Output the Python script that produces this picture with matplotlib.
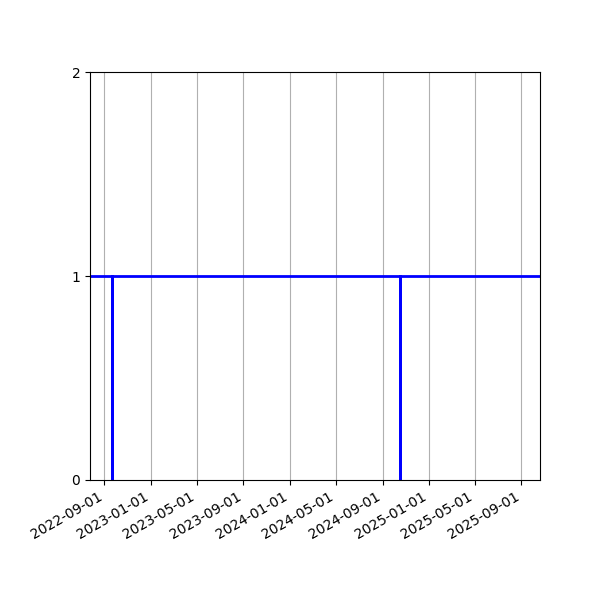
import matplotlib
matplotlib.use('Agg')
import matplotlib.pyplot as plt
import matplotlib.dates as mdates
import pandas as pd

# Статус: 1 - есть, 0 - провал (два коротких провала)
dates = pd.to_datetime(['2022-07-25', '2022-09-22', '2022-09-22', '2022-09-22',
                        '2024-10-17', '2024-10-17', '2024-10-17', '2025-10-20'])
values = [1, 1, 0, 1, 1, 0, 1, 1]
y_ticks = [0, 1, 2]

fig, ax = plt.subplots(figsize=(6, 6), dpi=100)
ax.plot(dates, values, color='blue', linewidth=2)
ax.set_xlim(dates[0], dates[-1])
ax.set_ylim(0, 2)
ax.set_yticks(y_ticks)
ax.xaxis.set_major_locator(mdates.MonthLocator(bymonth=[1, 5, 9]))
ax.xaxis.set_major_formatter(mdates.DateFormatter('%Y-%m-%d'))
ax.grid(axis='x')
fig.autofmt_xdate()
fig.subplots_adjust(left=0.15, right=0.9, top=0.88, bottom=0.2)
fig.savefig('out.png')
